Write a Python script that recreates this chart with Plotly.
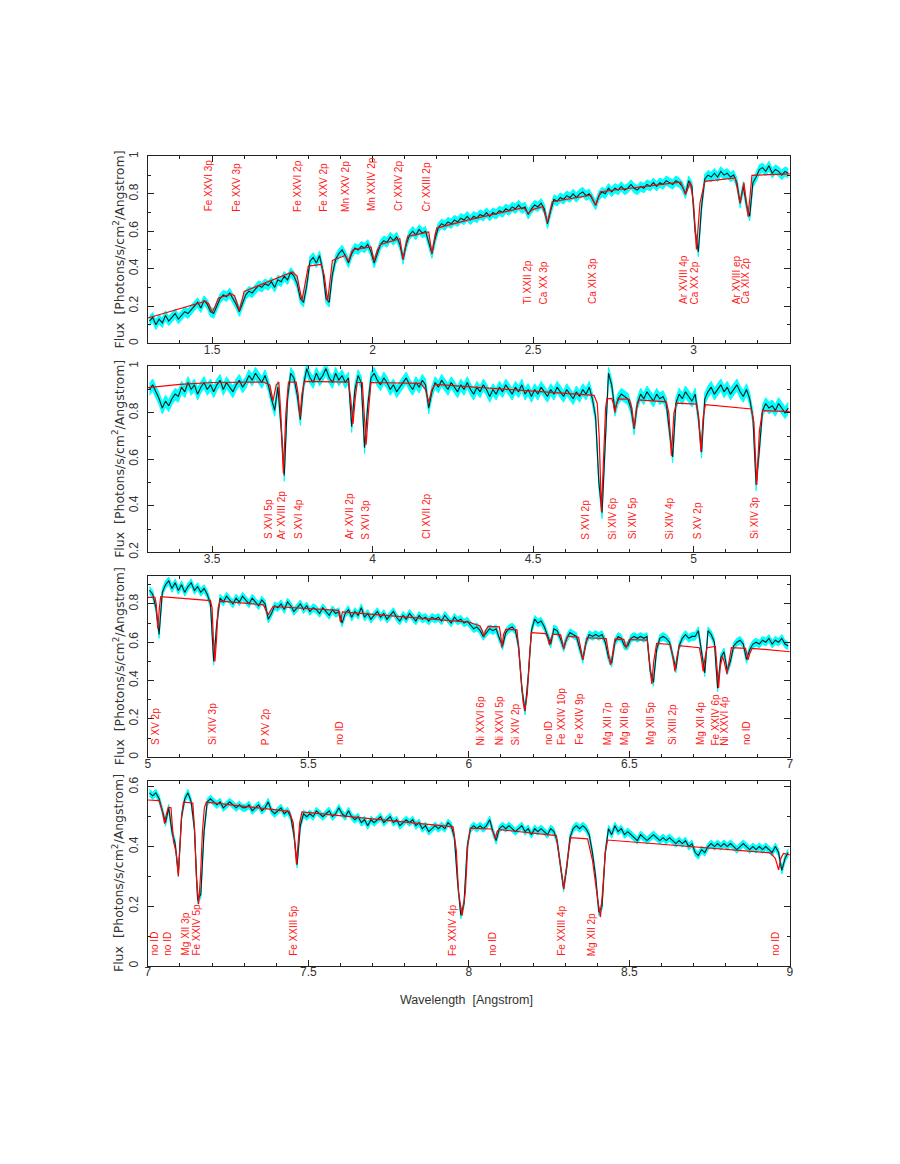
import plotly.graph_objects as go

# spectrum binned at 0.01 Angstrom, first bin centre of each panel
BIN = 0.01
START = [1.305, 3.305, 5.005, 7.005]
XRANGE = [[1.3, 3.3], [3.3, 5.3], [5.0, 7.0], [7.0, 9.0]]
YRANGE = [[0, 1], [0.2, 1], [0, 0.945], [0, 0.62]]
ERR = [0.025, 0.025, 0.02, 0.012]

FLUX1 = [
    0.12, 0.14, 0.10, 0.13, 0.11, 0.15, 0.12, 0.14, 0.16, 0.13,  # 1.30
    0.15, 0.17, 0.16, 0.18, 0.20, 0.22, 0.19, 0.23, 0.21, 0.17,  # 1.40
    0.16, 0.20, 0.24, 0.26, 0.25, 0.27, 0.24, 0.21, 0.17, 0.22,  # 1.50
    0.26, 0.28, 0.27, 0.29, 0.31, 0.30, 0.32, 0.31, 0.33, 0.30,  # 1.60
    0.34, 0.33, 0.36, 0.34, 0.38, 0.36, 0.32, 0.24, 0.22, 0.31,  # 1.70
    0.44, 0.46, 0.43, 0.47, 0.39, 0.24, 0.22, 0.37, 0.45, 0.48,  # 1.80
    0.50, 0.47, 0.43, 0.48, 0.51, 0.50, 0.52, 0.51, 0.53, 0.49,  # 1.90
    0.43, 0.48, 0.53, 0.55, 0.54, 0.57, 0.55, 0.57, 0.53, 0.45,  # 2.00
    0.53, 0.58, 0.60, 0.58, 0.61, 0.59, 0.60, 0.54, 0.48, 0.56,  # 2.10
    0.62, 0.64, 0.63, 0.65, 0.64, 0.66, 0.65, 0.67, 0.66, 0.68,  # 2.20
    0.66, 0.68, 0.67, 0.69, 0.68, 0.70, 0.68, 0.70, 0.69, 0.71,  # 2.30
    0.70, 0.72, 0.71, 0.73, 0.72, 0.74, 0.72, 0.73, 0.69, 0.72,  # 2.40
    0.74, 0.73, 0.75, 0.72, 0.64, 0.71, 0.77, 0.76, 0.78, 0.77,  # 2.50
    0.79, 0.78, 0.80, 0.78, 0.80, 0.81, 0.79, 0.80, 0.77, 0.74,  # 2.60
    0.79, 0.81, 0.80, 0.83, 0.81, 0.83, 0.82, 0.84, 0.82, 0.83,  # 2.70
    0.85, 0.83, 0.82, 0.84, 0.83, 0.85, 0.84, 0.86, 0.84, 0.86,  # 2.80
    0.85, 0.87, 0.86, 0.85, 0.87, 0.86, 0.84, 0.80, 0.87, 0.84,  # 2.90
    0.60, 0.49, 0.73, 0.88, 0.90, 0.89, 0.91, 0.89, 0.92, 0.90,  # 3.00
    0.91, 0.89, 0.90, 0.86, 0.75, 0.84, 0.74, 0.68, 0.86, 0.89,  # 3.10
    0.93, 0.94, 0.92, 0.95, 0.91, 0.93, 0.92, 0.90, 0.92, 0.91,  # 3.20
]
FLUX2 = [
    0.90, 0.92, 0.89, 0.86, 0.82, 0.85, 0.83, 0.86, 0.88, 0.87,  # 3.30
    0.91, 0.89, 0.93, 0.90, 0.92, 0.88, 0.91, 0.93, 0.90, 0.92,  # 3.40
    0.89, 0.92, 0.94, 0.90, 0.93, 0.91, 0.89, 0.92, 0.94, 0.91,  # 3.50
    0.93, 0.96, 0.94, 0.97, 0.95, 0.93, 0.96, 0.92, 0.86, 0.81,  # 3.60
    0.91, 0.74, 0.53, 0.86, 0.97, 0.95, 0.88, 0.77, 0.92, 0.99,  # 3.70
    0.95, 0.93, 0.97, 0.94, 0.96, 0.99, 0.95, 0.93, 0.97, 0.94,  # 3.80
    0.96, 0.93, 0.95, 0.74, 0.90, 0.96, 0.93, 0.65, 0.83, 0.95,  # 3.90
    0.97, 0.94, 0.92, 0.95, 0.93, 0.90, 0.92, 0.89, 0.91, 0.93,  # 4.00
    0.95, 0.92, 0.90, 0.93, 0.91, 0.94, 0.92, 0.82, 0.89, 0.93,  # 4.10
    0.91, 0.94, 0.92, 0.90, 0.93, 0.91, 0.89, 0.92, 0.90, 0.93,  # 4.20
    0.90, 0.88, 0.91, 0.89, 0.92, 0.90, 0.87, 0.90, 0.88, 0.91,  # 4.30
    0.89, 0.92, 0.90, 0.88, 0.91, 0.89, 0.92, 0.88, 0.90, 0.87,  # 4.40
    0.90, 0.88, 0.91, 0.89, 0.87, 0.90, 0.88, 0.91, 0.89, 0.87,  # 4.50
    0.90, 0.88, 0.86, 0.89, 0.87, 0.90, 0.88, 0.91, 0.86, 0.78,  # 4.60
    0.50, 0.37, 0.70, 0.97, 0.92, 0.81, 0.86, 0.88, 0.87, 0.86,  # 4.70
    0.82, 0.73, 0.84, 0.88, 0.86, 0.89, 0.87, 0.85, 0.88, 0.86,  # 4.80
    0.87, 0.84, 0.72, 0.61, 0.84, 0.88, 0.86, 0.89, 0.87, 0.85,  # 4.90
    0.88, 0.78, 0.63, 0.86, 0.89, 0.91, 0.88, 0.90, 0.92, 0.89,  # 5.00
    0.91, 0.88, 0.90, 0.92, 0.89, 0.87, 0.90, 0.86, 0.78, 0.49,  # 5.10
    0.64, 0.81, 0.84, 0.82, 0.83, 0.81, 0.84, 0.82, 0.80, 0.82,  # 5.20
]
FLUX3 = [
    0.87, 0.85, 0.78, 0.64, 0.86, 0.90, 0.92, 0.88, 0.91, 0.87,  # 5.00
    0.90, 0.86, 0.89, 0.91, 0.87, 0.89, 0.86, 0.88, 0.85, 0.80,  # 5.10
    0.50, 0.70, 0.83, 0.81, 0.84, 0.82, 0.80, 0.83, 0.81, 0.84,  # 5.20
    0.82, 0.80, 0.83, 0.81, 0.79, 0.82, 0.80, 0.72, 0.75, 0.79,  # 5.30
    0.78, 0.80, 0.77, 0.81, 0.79, 0.76, 0.78, 0.80, 0.77, 0.79,  # 5.40
    0.76, 0.78, 0.77, 0.75, 0.78, 0.76, 0.74, 0.77, 0.75, 0.76,  # 5.50
    0.70, 0.75, 0.77, 0.73, 0.76, 0.74, 0.78, 0.73, 0.75, 0.72,  # 5.60
    0.74, 0.76, 0.73, 0.75, 0.72, 0.74, 0.76, 0.73, 0.71, 0.74,  # 5.70
    0.72, 0.75, 0.73, 0.71, 0.74, 0.72, 0.73, 0.71, 0.73, 0.72,  # 5.80
    0.73, 0.71, 0.74, 0.72, 0.70, 0.73, 0.71, 0.72, 0.70, 0.71,  # 5.90
    0.69, 0.67, 0.68, 0.66, 0.63, 0.65, 0.67, 0.66, 0.67, 0.62,  # 6.00
    0.58, 0.65, 0.67, 0.68, 0.66, 0.58, 0.36, 0.24, 0.42, 0.66,  # 6.10
    0.72, 0.70, 0.71, 0.68, 0.63, 0.59, 0.67, 0.66, 0.62, 0.57,  # 6.20
    0.62, 0.65, 0.64, 0.63, 0.57, 0.51, 0.60, 0.64, 0.63, 0.64,  # 6.30
    0.63, 0.64, 0.60, 0.52, 0.49, 0.60, 0.63, 0.62, 0.58, 0.58,  # 6.40
    0.62, 0.63, 0.62, 0.63, 0.62, 0.63, 0.45, 0.39, 0.56, 0.62,  # 6.50
    0.63, 0.62, 0.60, 0.53, 0.46, 0.58, 0.62, 0.64, 0.62, 0.63,  # 6.60
    0.63, 0.66, 0.56, 0.44, 0.66, 0.64, 0.60, 0.36, 0.52, 0.55,  # 6.70
    0.45, 0.50, 0.58, 0.60, 0.61, 0.59, 0.51, 0.56, 0.59, 0.60,  # 6.80
    0.59, 0.61, 0.60, 0.62, 0.59, 0.61, 0.60, 0.62, 0.59, 0.58,  # 6.90
]
FLUX4 = [
    0.58, 0.57, 0.58, 0.56, 0.52, 0.48, 0.53, 0.45, 0.41, 0.31,  # 7.00
    0.50, 0.56, 0.58, 0.55, 0.46, 0.22, 0.24, 0.45, 0.55, 0.56,  # 7.10
    0.55, 0.54, 0.55, 0.53, 0.54, 0.55, 0.54, 0.53, 0.54, 0.53,  # 7.20
    0.53, 0.54, 0.52, 0.53, 0.54, 0.52, 0.53, 0.55, 0.52, 0.51,  # 7.30
    0.52, 0.53, 0.51, 0.52, 0.50, 0.44, 0.34, 0.47, 0.51, 0.50,  # 7.40
    0.51, 0.50, 0.52, 0.51, 0.50, 0.51, 0.52, 0.50, 0.51, 0.53,  # 7.50
    0.51, 0.50, 0.52, 0.50, 0.49, 0.50, 0.48, 0.49, 0.47, 0.49,  # 7.60
    0.48, 0.49, 0.50, 0.48, 0.49, 0.50, 0.48, 0.49, 0.47, 0.48,  # 7.70
    0.49, 0.48, 0.49, 0.47, 0.48, 0.46, 0.47, 0.45, 0.46, 0.47,  # 7.80
    0.46, 0.47, 0.46, 0.48, 0.47, 0.43, 0.28, 0.17, 0.21, 0.40,  # 7.90
    0.46, 0.47, 0.46, 0.47, 0.46, 0.47, 0.49, 0.45, 0.42, 0.46,  # 8.00
    0.47, 0.46, 0.47, 0.46, 0.45, 0.46, 0.47, 0.45, 0.46, 0.44,  # 8.10
    0.46, 0.45, 0.46, 0.45, 0.44, 0.46, 0.45, 0.42, 0.34, 0.26,  # 8.20
    0.33, 0.43, 0.46, 0.47, 0.46, 0.47, 0.46, 0.44, 0.38, 0.30,  # 8.30
    0.18, 0.20, 0.38, 0.46, 0.44, 0.47, 0.45, 0.46, 0.44, 0.45,  # 8.40
    0.44, 0.43, 0.42, 0.44, 0.43, 0.42, 0.43, 0.44, 0.43, 0.42,  # 8.50
    0.43, 0.42, 0.43, 0.42, 0.41, 0.42, 0.41, 0.42, 0.40, 0.41,  # 8.60
    0.38, 0.37, 0.39, 0.38, 0.40, 0.41, 0.40, 0.41, 0.40, 0.41,  # 8.70
    0.40, 0.41, 0.40, 0.39, 0.40, 0.41, 0.40, 0.39, 0.40, 0.39,  # 8.80
    0.40, 0.39, 0.40, 0.39, 0.38, 0.40, 0.38, 0.32, 0.36, 0.38,  # 8.90
]

# model (red curve)
MODEL1_X = [1.30, 1.48, 1.49, 1.50, 1.51, 1.52, 1.56, 1.57, 1.585, 1.595, 1.60, 1.75, 1.765,
            1.78, 1.79, 1.80, 1.84, 1.85, 1.86, 1.87, 1.875, 1.915, 1.925, 1.935, 1.94, 1.995,
            2.005, 2.015, 2.025, 2.085, 2.095, 2.105, 2.11, 2.175, 2.185, 2.195, 2.20, 2.30,
            2.47, 2.485, 2.50, 2.53, 2.545, 2.56, 2.68, 2.695, 2.71, 2.96, 2.975, 2.99, 3.0,
            3.009, 3.02, 3.035, 3.13, 3.145, 3.157, 3.17, 3.182, 3.30]
MODEL1_Y = [0.136, 0.226, 0.21, 0.167, 0.20, 0.243, 0.264, 0.255, 0.176, 0.24, 0.278, 0.382, 0.36,
            0.229, 0.33, 0.414, 0.423, 0.36, 0.226, 0.38, 0.444, 0.47, 0.44, 0.49, 0.502, 0.516,
            0.44, 0.50, 0.529, 0.56, 0.449, 0.54, 0.573, 0.596, 0.479, 0.58, 0.617, 0.661,
            0.726, 0.696, 0.717, 0.731, 0.648, 0.758, 0.793, 0.737, 0.811, 0.863, 0.796, 0.863, 0.75,
            0.502, 0.75, 0.867, 0.885, 0.749, 0.86, 0.678, 0.899, 0.907]
MODEL2_X = [3.30, 3.40, 3.50, 3.66, 3.68, 3.69, 3.70, 3.708, 3.714, 3.722, 3.730, 3.738, 3.762,
            3.768, 3.774, 3.780, 3.788, 3.925, 3.932, 3.939, 3.946, 3.952, 3.968, 3.974, 3.980,
            3.987, 3.995, 4.15, 4.165, 4.175, 4.185, 4.195, 4.69, 4.70, 4.706, 4.713, 4.720,
            4.726, 4.73, 4.745, 4.750, 4.755, 4.760, 4.768, 4.80, 4.808, 4.815, 4.822, 4.83, 4.915,
            4.923, 4.931, 4.939, 4.947, 5.010, 5.016, 5.023, 5.030, 5.037, 5.18, 5.188, 5.197,
            5.205, 5.215, 5.30]
MODEL2_Y = [0.908, 0.922, 0.93, 0.932, 0.92, 0.851, 0.92, 0.932, 0.80, 0.54, 0.80, 0.932, 0.932,
            0.88, 0.78, 0.88, 0.935, 0.932, 0.86, 0.752, 0.86, 0.93, 0.93, 0.80, 0.663,
            0.80, 0.93, 0.926, 0.90, 0.844, 0.90, 0.922, 0.875, 0.84, 0.70, 0.375, 0.62,
            0.82, 0.86, 0.862, 0.84, 0.80, 0.84, 0.86, 0.858, 0.82, 0.731, 0.82, 0.855, 0.847,
            0.80, 0.615, 0.80, 0.841, 0.837, 0.78, 0.632, 0.78, 0.835, 0.816, 0.76, 0.49,
            0.72, 0.809, 0.805]
MODEL3_X = [5.00, 5.022, 5.026, 5.031, 5.036, 5.04, 5.195, 5.200, 5.204, 5.209, 5.214, 5.219,
            5.225, 5.36, 5.368, 5.375, 5.382, 5.39, 5.594, 5.600, 5.606, 5.80, 6.00, 6.035,
            6.042, 6.047, 6.052, 6.06, 6.095, 6.099, 6.103, 6.108, 6.115, 6.15, 6.161, 6.169,
            6.174, 6.182, 6.19, 6.195, 6.24, 6.246, 6.251, 6.256, 6.262, 6.286, 6.291, 6.296,
            6.301, 6.308, 6.342, 6.349, 6.355, 6.361, 6.368, 6.428, 6.435, 6.441, 6.447, 6.455,
            6.483, 6.487, 6.490, 6.494, 6.50, 6.556, 6.563, 6.570, 6.576, 6.585, 6.628, 6.636,
            6.642, 6.648, 6.656, 6.718, 6.725, 6.730, 6.735, 6.742, 6.768, 6.773, 6.778, 6.783,
            6.790, 6.795, 6.799, 6.804, 6.809, 6.818, 6.862, 6.866, 6.870, 6.875, 6.882, 7.00]
MODEL3_Y = [0.834, 0.834, 0.80, 0.671, 0.78, 0.838, 0.817, 0.78, 0.62, 0.499, 0.62, 0.78,
            0.814, 0.795, 0.765, 0.743, 0.765, 0.786, 0.766, 0.705, 0.758, 0.73, 0.705, 0.685,
            0.66, 0.628, 0.66, 0.682, 0.68, 0.64, 0.571, 0.64, 0.667, 0.664, 0.46, 0.29,
            0.241, 0.33, 0.55, 0.65, 0.645, 0.62, 0.585, 0.62, 0.642, 0.638, 0.60, 0.564,
            0.60, 0.631, 0.625, 0.56, 0.508, 0.56, 0.623, 0.619, 0.53, 0.482, 0.53, 0.616,
            0.615, 0.59, 0.568, 0.59, 0.614, 0.611, 0.50, 0.382, 0.50, 0.594, 0.588, 0.52,
            0.447, 0.52, 0.582, 0.571, 0.51, 0.447, 0.51, 0.571, 0.578, 0.48, 0.361, 0.47,
            0.525, 0.50, 0.47, 0.434, 0.48, 0.571, 0.568, 0.54, 0.508, 0.54, 0.568, 0.55]
MODEL4_X = [7.00, 7.035, 7.045, 7.052, 7.058, 7.064, 7.072, 7.077, 7.080, 7.088, 7.095, 7.100,
            7.105, 7.111, 7.140, 7.146, 7.151, 7.158, 7.164, 7.170, 7.176, 7.182, 7.44, 7.453,
            7.458, 7.463, 7.468, 7.473, 7.48, 7.951, 7.961, 7.968, 7.979, 7.989, 7.997, 8.005,
            8.07, 8.076, 8.082, 8.088, 8.094, 8.272, 8.283, 8.296, 8.307, 8.317, 8.37, 8.385,
            8.403, 8.41, 8.418, 8.425, 8.432, 8.94, 8.955, 8.965, 8.972, 8.98, 9.00]
MODEL4_Y = [0.556, 0.554, 0.52, 0.477, 0.51, 0.532, 0.53, 0.45, 0.417, 0.38, 0.301, 0.40,
            0.50, 0.549, 0.546, 0.45, 0.30, 0.207, 0.30, 0.45, 0.53, 0.549, 0.518, 0.48,
            0.41, 0.339, 0.41, 0.48, 0.516, 0.466, 0.387, 0.246, 0.169, 0.246, 0.41, 0.462,
            0.459, 0.45, 0.426, 0.45, 0.457, 0.437, 0.355, 0.257, 0.355, 0.43, 0.426, 0.355,
            0.21, 0.164, 0.27, 0.38, 0.422, 0.379, 0.36, 0.322, 0.36, 0.377, 0.372]

# line identifications
LAB1 = ["Fe XXVI 3p", "Fe XXV 3p", "Fe XXVI 2p", "Fe XXV 2p", "Mn XXV 2p", "Mn XXIV 2p",
        "Cr XXIV 2p", "Cr XXIII 2p", "Ti XXII 2p", "Ca XX 3p", "Ca XIX 3p", "Ar XVIII 4p",
        "Ca XX 2p", "Ar XVIII ep", "Ca XIX 2p"]
LABX1 = [1.490, 1.577, 1.766, 1.848, 1.917, 1.997, 2.081, 2.171, 2.481, 2.533, 2.686, 2.968,
         3.004, 3.134, 3.162]
LABY1 = [0.695, 0.695, 0.695, 0.695, 0.695, 0.695, 0.695, 0.695, 0.199, 0.199, 0.199, 0.199,
         0.199, 0.199, 0.199]
LAB2 = ["S XVI 5p", "Ar XVIII 2p", "S XVI 4p", "Ar XVII 2p", "S XVI 3p", "Cl XVII 2p",
        "S XVI 2p", "Si XIV 6p", "Si XIV 5p", "Si XIV 4p", "S XV 2p", "Si XIV 3p"]
LABX2 = [3.676, 3.717, 3.770, 3.929, 3.978, 4.170, 4.663, 4.747, 4.808, 4.924, 5.015, 5.190]
LAB3 = ["S XV 2p", "Si XIV 3p", "P XV 2p", "no ID", "Ni XXVI 6p", "Ni XXVI 5p", "Si XIV 2p",
        "no ID", "Fe XXIV 10p", "Fe XXIV 9p", "Mg XII 7p", "Mg XII 6p", "Mg XII 5p",
        "Si XIII 2p", "Mg XII 4p", "Fe XXIV 6p", "Ni XXVI 4p", "no ID"]
LABX3 = [5.023, 5.199, 5.367, 5.595, 6.037, 6.096, 6.145, 6.246, 6.288, 6.345, 6.432, 6.485,
         6.565, 6.634, 6.721, 6.768, 6.798, 6.863]
LAB4 = ["no ID", "no ID", "Mg XII 3p", "Fe XXIV 5p", "Fe XXIII 5p", "Fe XXIV 4p", "no ID",
        "Fe XXIII 4p", "Mg XII 2p", "no ID"]
LABX4 = [7.021, 7.062, 7.116, 7.152, 7.455, 7.951, 8.075, 8.290, 8.383, 8.956]

FLUX = [FLUX1, FLUX2, FLUX3, FLUX4]
MODEL_X = [MODEL1_X, MODEL2_X, MODEL3_X, MODEL4_X]
MODEL_Y = [MODEL1_Y, MODEL2_Y, MODEL3_Y, MODEL4_Y]
LABELS = [LAB1, LAB2, LAB3, LAB4]
LABEL_X = [LABX1, LABX2, LABX3, LABX4]
LABEL_Y = [LABY1, [0.247] * len(LAB2), [0.052] * len(LAB3), [0.027] * len(LAB4)]

for f in FLUX:
    assert len(f) == 200

W, H = 900, 1164
LEFT, RIGHT = 146, 793
TOPS = [153, 365, 577, 784]
BOTTOMS = [342, 553, 760, 971]

FONT = "Liberation Sans"
TITLE_FONT = "DejaVu Sans"
AXCOL = "#222222"

fig = go.Figure()
layout = dict(width=W, height=H, margin=dict(l=0, r=0, t=0, b=0),
              paper_bgcolor="white", plot_bgcolor="white", showlegend=False)
annotations = []

for i in range(4):
    n = i + 1
    xa = "x" if n == 1 else f"x{n}"
    ya = "y" if n == 1 else f"y{n}"
    wave = [START[i] + BIN * k for k in range(len(FLUX[i]))]
    lo = [f - ERR[i] for f in FLUX[i]]
    hi = [f + ERR[i] for f in FLUX[i]]

    # cyan error band
    fig.add_trace(go.Scatter(x=wave, y=lo, mode="lines",
                             line=dict(color="#00ffff", width=1),
                             xaxis=xa, yaxis=ya, hoverinfo="skip"))
    fig.add_trace(go.Scatter(x=wave, y=hi, mode="lines", fill="tonexty", fillcolor="#00ffff",
                             line=dict(color="#00ffff", width=1),
                             xaxis=xa, yaxis=ya, hoverinfo="skip"))
    fig.add_trace(go.Scatter(x=wave, y=FLUX[i], mode="lines",
                             line=dict(color="#102020", width=1.1),
                             xaxis=xa, yaxis=ya, hoverinfo="skip"))
    fig.add_trace(go.Scatter(x=MODEL_X[i], y=MODEL_Y[i], mode="lines",
                             line=dict(color="#ff0000", width=1.2),
                             xaxis=xa, yaxis=ya, hoverinfo="skip"))

    ydom = [1 - BOTTOMS[i] / H, 1 - TOPS[i] / H]
    common = dict(showline=True, mirror="ticks", linecolor=AXCOL, linewidth=1,
                  ticks="inside", ticklen=6, tickcolor=AXCOL, showgrid=False, zeroline=False,
                  tickfont=dict(family=FONT, size=12, color="#333333"))
    layout["xaxis" if n == 1 else f"xaxis{n}"] = dict(
        domain=[LEFT / W, RIGHT / W], range=XRANGE[i], anchor=ya, dtick=0.5,
        ticklabelstandoff=-5,
        minor=dict(dtick=0.1, ticks="inside", ticklen=3, tickcolor=AXCOL), **common)
    layout["yaxis" if n == 1 else f"yaxis{n}"] = dict(
        domain=ydom, range=YRANGE[i], anchor=xa, dtick=0.2, tickangle=-90,
        ticklabelstandoff=4,
        minor=dict(dtick=0.1, ticks="inside", ticklen=3, tickcolor=AXCOL), **common)

    for txt, lx, ly in zip(LABELS[i], LABEL_X[i], LABEL_Y[i]):
        annotations.append(dict(x=lx, y=ly, xref=xa, yref=ya, text=txt, showarrow=False,
                                textangle=-90, xanchor="center", yanchor="bottom",
                                font=dict(family=FONT, size=10, color="#ff1a1a")))

    annotations.append(dict(x=116.5 / W, y=sum(ydom) / 2, xref="paper", yref="paper",
                            text="Flux  [Photons/s/cm<sup>2</sup>/Angstrom]", showarrow=False,
                            textangle=-90, xanchor="center", yanchor="middle",
                            font=dict(family=TITLE_FONT, size=12.5, color="#333333")))

annotations.append(dict(x=467 / W, y=1 - 1005 / H, xref="paper", yref="paper",
                        text="Wavelength  [Angstrom]", showarrow=False,
                        xanchor="center", yanchor="middle",
                        font=dict(family=FONT, size=12.5, color="#333333")))
layout["annotations"] = annotations
fig.update_layout(**layout)
fig.write_html("out.html", config={"displayModeBar": False},
               post_script="document.body.style.margin='0px';")
